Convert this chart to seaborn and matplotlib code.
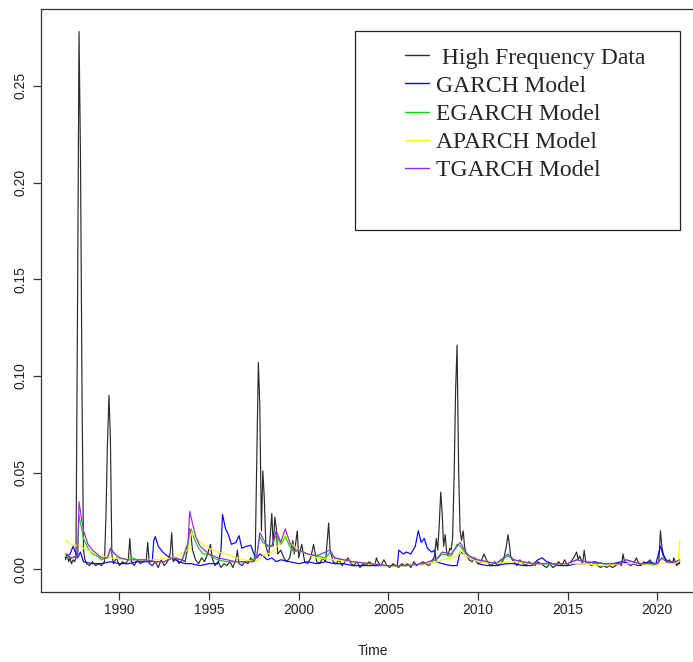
import numpy as np
import pandas as pd
import matplotlib
matplotlib.use("Agg")
import matplotlib.pyplot as plt
import seaborn as sns
from matplotlib.patches import Rectangle

# ---- data (time in decimal years) ----
hf_t = [1987.00, 1987.08, 1987.17, 1987.25, 1987.33, 1987.42, 1987.50, 1987.58, 1987.67, 1987.75,
        1987.83, 1987.92, 1988.00, 1988.08, 1988.17, 1988.33, 1988.50, 1988.67, 1988.83, 1989.00,
        1989.17, 1989.25, 1989.33, 1989.42, 1989.50, 1989.58, 1989.67, 1989.83, 1990.00, 1990.17,
        1990.33, 1990.50, 1990.58, 1990.67, 1990.83, 1991.00, 1991.17, 1991.33, 1991.50, 1991.58,
        1991.67, 1991.83, 1992.00, 1992.17, 1992.33, 1992.50, 1992.67, 1992.83, 1992.92, 1993.00,
        1993.17, 1993.33, 1993.50, 1993.67, 1993.83, 1993.92, 1994.00, 1994.08, 1994.25, 1994.42,
        1994.58, 1994.75, 1994.92, 1995.08, 1995.17, 1995.33, 1995.50, 1995.67, 1995.83, 1996.00,
        1996.17, 1996.33, 1996.50, 1996.58, 1996.67, 1996.83, 1997.00, 1997.17, 1997.33, 1997.50,
        1997.58, 1997.67, 1997.75, 1997.83, 1997.92, 1998.00, 1998.08, 1998.17, 1998.33, 1998.50,
        1998.58, 1998.67, 1998.75, 1998.83, 1999.00, 1999.17, 1999.33, 1999.50, 1999.67, 1999.75,
        1999.92, 2000.00, 2000.17, 2000.33, 2000.50, 2000.67, 2000.83, 2001.00, 2001.17, 2001.33,
        2001.50, 2001.67, 2001.75, 2001.92, 2002.08, 2002.25, 2002.42, 2002.58, 2002.75, 2002.92,
        2003.08, 2003.25, 2003.42, 2003.58, 2003.75, 2003.92, 2004.08, 2004.25, 2004.33, 2004.42,
        2004.58, 2004.75, 2004.92, 2005.08, 2005.25, 2005.42, 2005.58, 2005.75, 2005.92, 2006.08,
        2006.25, 2006.42, 2006.58, 2006.75, 2006.92, 2007.08, 2007.25, 2007.42, 2007.58, 2007.67,
        2007.75, 2007.83, 2007.92, 2008.00, 2008.08, 2008.17, 2008.25, 2008.33, 2008.42, 2008.50,
        2008.58, 2008.67, 2008.75, 2008.83, 2008.92, 2009.00, 2009.08, 2009.17, 2009.25, 2009.33,
        2009.50, 2009.67, 2009.83, 2010.00, 2010.17, 2010.33, 2010.42, 2010.58, 2010.75, 2010.92,
        2011.08, 2011.25, 2011.42, 2011.58, 2011.67, 2011.75, 2011.83, 2012.00, 2012.17, 2012.33,
        2012.50, 2012.67, 2012.83, 2013.00, 2013.17, 2013.33, 2013.50, 2013.67, 2013.83, 2014.00,
        2014.17, 2014.33, 2014.50, 2014.67, 2014.83, 2015.00, 2015.17, 2015.33, 2015.50, 2015.58,
        2015.67, 2015.83, 2015.92, 2016.00, 2016.17, 2016.33, 2016.50, 2016.67, 2016.83, 2017.00,
        2017.17, 2017.33, 2017.50, 2017.67, 2017.83, 2018.00, 2018.08, 2018.17, 2018.33, 2018.50,
        2018.67, 2018.83, 2018.92, 2019.08, 2019.25, 2019.42, 2019.58, 2019.75, 2019.92, 2020.08,
        2020.17, 2020.25, 2020.33, 2020.50, 2020.67, 2020.83, 2020.92, 2021.08, 2021.25]
hf_v = [0.005, 0.008, 0.004, 0.006, 0.003, 0.005, 0.004, 0.006, 0.140, 0.278,
        0.215, 0.088, 0.010, 0.005, 0.003, 0.002, 0.004, 0.002, 0.003, 0.002,
        0.004, 0.027, 0.063, 0.090, 0.068, 0.008, 0.003, 0.006, 0.002, 0.004,
        0.003, 0.005, 0.016, 0.004, 0.002, 0.005, 0.003, 0.004, 0.005, 0.014,
        0.003, 0.002, 0.004, 0.001, 0.005, 0.002, 0.004, 0.008, 0.019, 0.004,
        0.006, 0.003, 0.005, 0.004, 0.012, 0.021, 0.017, 0.010, 0.005, 0.003,
        0.006, 0.004, 0.008, 0.013, 0.006, 0.002, 0.004, 0.001, 0.003, 0.002,
        0.004, 0.001, 0.005, 0.010, 0.003, 0.002, 0.004, 0.003, 0.006, 0.004,
        0.010, 0.062, 0.107, 0.085, 0.020, 0.051, 0.037, 0.012, 0.007, 0.029,
        0.012, 0.027, 0.021, 0.008, 0.010, 0.006, 0.004, 0.006, 0.015, 0.008,
        0.020, 0.006, 0.013, 0.004, 0.003, 0.006, 0.013, 0.004, 0.003, 0.006,
        0.004, 0.024, 0.010, 0.004, 0.003, 0.005, 0.002, 0.004, 0.006, 0.003,
        0.002, 0.004, 0.001, 0.003, 0.002, 0.004, 0.003, 0.002, 0.006, 0.004,
        0.002, 0.005, 0.002, 0.001, 0.003, 0.002, 0.001, 0.003, 0.002, 0.003,
        0.001, 0.004, 0.002, 0.003, 0.004, 0.003, 0.002, 0.004, 0.007, 0.016,
        0.010, 0.022, 0.040, 0.029, 0.012, 0.018, 0.009, 0.007, 0.011, 0.010,
        0.016, 0.050, 0.093, 0.116, 0.050, 0.020, 0.015, 0.020, 0.012, 0.008,
        0.005, 0.004, 0.006, 0.003, 0.004, 0.008, 0.006, 0.003, 0.002, 0.004,
        0.002, 0.003, 0.005, 0.012, 0.018, 0.013, 0.006, 0.004, 0.002, 0.005,
        0.003, 0.002, 0.004, 0.003, 0.002, 0.004, 0.003, 0.002, 0.001, 0.003,
        0.001, 0.002, 0.004, 0.002, 0.005, 0.002, 0.004, 0.006, 0.009, 0.005,
        0.007, 0.003, 0.010, 0.004, 0.003, 0.002, 0.004, 0.002, 0.001, 0.002,
        0.001, 0.002, 0.001, 0.002, 0.003, 0.002, 0.008, 0.004, 0.003, 0.002,
        0.003, 0.006, 0.004, 0.002, 0.004, 0.003, 0.005, 0.002, 0.003, 0.004,
        0.020, 0.012, 0.008, 0.004, 0.005, 0.003, 0.006, 0.002, 0.004]

garch_t = [1987.00, 1987.25, 1987.42, 1987.58, 1987.67, 1987.83, 1988.00, 1988.50, 1989.00, 1989.50,
           1990.00, 1990.50, 1991.00, 1991.50, 1991.83, 1991.92, 1992.00, 1992.17, 1992.42, 1992.67,
           1993.00, 1993.33, 1993.67, 1994.00, 1994.50, 1995.00, 1995.50, 1995.67, 1995.75, 1995.92,
           1996.08, 1996.25, 1996.50, 1996.67, 1996.83, 1997.08, 1997.33, 1997.50, 1997.67, 1997.83,
           1998.00, 1998.25, 1998.50, 1998.75, 1999.00, 1999.50, 2000.00, 2000.50, 2001.00, 2001.50,
           2002.00, 2002.50, 2003.00, 2004.00, 2005.00, 2005.50, 2005.58, 2005.83, 2006.00, 2006.25,
           2006.50, 2006.67, 2006.83, 2007.00, 2007.17, 2007.42, 2007.58, 2007.67, 2008.00, 2008.50,
           2008.83, 2009.00, 2009.25, 2009.50, 2009.83, 2010.00, 2010.50, 2011.00, 2011.58, 2012.00,
           2012.50, 2013.00, 2013.33, 2013.58, 2013.83, 2014.17, 2014.50, 2015.00, 2015.50, 2016.00,
           2016.50, 2017.00, 2017.50, 2018.00, 2018.50, 2019.00, 2019.50, 2019.92, 2020.17, 2020.33,
           2020.58, 2021.00, 2021.25]
garch_v = [0.006, 0.008, 0.012, 0.008, 0.006, 0.009, 0.004, 0.003, 0.003, 0.004,
           0.003, 0.003, 0.004, 0.004, 0.004, 0.015, 0.017, 0.012, 0.009, 0.007,
           0.0055, 0.004, 0.003, 0.003, 0.002, 0.003, 0.003, 0.010, 0.0285, 0.021,
           0.018, 0.013, 0.014, 0.0175, 0.011, 0.012, 0.0125, 0.008, 0.006, 0.008,
           0.007, 0.005, 0.006, 0.004, 0.005, 0.004, 0.003, 0.004, 0.003, 0.004,
           0.003, 0.003, 0.002, 0.002, 0.002, 0.002, 0.010, 0.008, 0.009, 0.008,
           0.012, 0.020, 0.014, 0.016, 0.011, 0.009, 0.010, 0.004, 0.003, 0.002,
           0.002, 0.009, 0.008, 0.006, 0.005, 0.003, 0.002, 0.002, 0.003, 0.003,
           0.002, 0.002, 0.005, 0.006, 0.004, 0.003, 0.002, 0.002, 0.003, 0.003,
           0.004, 0.003, 0.003, 0.004, 0.003, 0.002, 0.004, 0.003, 0.012, 0.007,
           0.004, 0.003, 0.003]

egarch_t = [1987.00, 1987.33, 1987.67, 1987.75, 1987.83, 1988.00, 1988.25, 1988.50, 1988.75, 1989.00,
            1989.33, 1989.50, 1989.75, 1990.00, 1990.50, 1990.75, 1991.00, 1991.50, 1992.00, 1992.50,
            1993.00, 1993.50, 1993.83, 1993.92, 1994.00, 1994.17, 1994.42, 1994.67, 1995.00, 1995.25,
            1995.50, 1996.00, 1996.50, 1997.00, 1997.50, 1997.67, 1997.83, 1998.00, 1998.17, 1998.50,
            1998.75, 1999.00, 1999.25, 1999.50, 1999.75, 2000.00, 2000.50, 2001.00, 2001.50, 2001.75,
            2002.00, 2002.50, 2003.00, 2004.00, 2005.00, 2006.00, 2007.00, 2007.67, 2008.00, 2008.50,
            2008.83, 2009.00, 2009.25, 2009.50, 2010.00, 2010.50, 2011.00, 2011.67, 2012.00, 2012.50,
            2013.00, 2014.00, 2015.00, 2015.50, 2016.00, 2017.00, 2018.00, 2018.25, 2019.00, 2020.00,
            2020.25, 2020.50, 2021.00, 2021.25]
egarch_v = [0.007, 0.006, 0.007, 0.028, 0.024, 0.016, 0.011, 0.008, 0.007, 0.005,
            0.006, 0.010, 0.008, 0.006, 0.005, 0.006, 0.005, 0.005, 0.004, 0.004,
            0.006, 0.005, 0.012, 0.020, 0.021, 0.016, 0.011, 0.008, 0.008, 0.006,
            0.005, 0.004, 0.004, 0.004, 0.005, 0.008, 0.017, 0.014, 0.013, 0.012,
            0.018, 0.013, 0.017, 0.012, 0.009, 0.010, 0.008, 0.007, 0.006, 0.009,
            0.006, 0.005, 0.004, 0.003, 0.002, 0.002, 0.003, 0.005, 0.008, 0.007,
            0.013, 0.012, 0.009, 0.007, 0.005, 0.004, 0.003, 0.007, 0.005, 0.004,
            0.003, 0.003, 0.003, 0.005, 0.004, 0.003, 0.003, 0.005, 0.003, 0.003,
            0.006, 0.004, 0.004, 0.004]

aparch_t = [1987.00, 1987.50, 1987.75, 1988.00, 1988.50, 1989.00, 1989.50, 1990.00, 1991.00, 1992.00,
            1993.00, 1993.83, 1994.00, 1994.25, 1994.50, 1995.00, 1995.50, 1996.00, 1996.50, 1997.00,
            1997.50, 1997.75, 1998.00, 1998.50, 1999.00, 1999.25, 1999.50, 2000.00, 2000.50, 2001.00,
            2002.00, 2003.00, 2004.00, 2005.00, 2006.00, 2007.00, 2007.75, 2008.00, 2008.50, 2008.83,
            2009.08, 2009.25, 2009.50, 2010.00, 2011.00, 2011.75, 2012.00, 2013.00, 2014.00, 2015.00,
            2016.00, 2017.00, 2018.00, 2019.00, 2020.00, 2020.25, 2020.50, 2021.00, 2021.17, 2021.25]
aparch_v = [0.015, 0.012, 0.013, 0.011, 0.009, 0.007, 0.006, 0.0055, 0.005, 0.005,
            0.006, 0.010, 0.019, 0.017, 0.014, 0.011, 0.009, 0.008, 0.006, 0.005,
            0.004, 0.005, 0.007, 0.009, 0.014, 0.018, 0.014, 0.010, 0.008, 0.006,
            0.005, 0.004, 0.003, 0.002, 0.002, 0.003, 0.004, 0.005, 0.006, 0.007,
            0.0095, 0.008, 0.006, 0.004, 0.003, 0.004, 0.004, 0.003, 0.003, 0.003,
            0.003, 0.002, 0.003, 0.003, 0.002, 0.004, 0.003, 0.003, 0.004, 0.015]

tgarch_t = [1987.00, 1987.33, 1987.67, 1987.75, 1987.83, 1988.00, 1988.25, 1988.50, 1988.75, 1989.00,
            1989.33, 1989.50, 1989.75, 1990.00, 1990.50, 1991.00, 1991.50, 1992.00, 1992.50, 1993.00,
            1993.50, 1993.83, 1993.92, 1994.00, 1994.25, 1994.50, 1994.75, 1995.00, 1995.50, 1996.00,
            1996.50, 1997.00, 1997.50, 1997.67, 1997.83, 1998.00, 1998.25, 1998.50, 1998.75, 1999.00,
            1999.25, 1999.50, 1999.75, 2000.00, 2000.50, 2001.00, 2001.75, 2002.00, 2003.00, 2004.00,
            2005.00, 2006.00, 2007.00, 2007.75, 2008.00, 2008.50, 2008.83, 2009.00, 2009.25, 2009.50,
            2010.00, 2011.00, 2011.67, 2012.00, 2013.00, 2014.00, 2015.00, 2015.50, 2016.00, 2017.00,
            2018.00, 2018.25, 2019.00, 2020.00, 2020.25, 2020.50, 2021.00, 2021.25]
tgarch_v = [0.008, 0.006, 0.007, 0.035, 0.030, 0.020, 0.013, 0.010, 0.008, 0.006,
            0.006, 0.011, 0.008, 0.006, 0.005, 0.005, 0.005, 0.004, 0.004, 0.006,
            0.005, 0.014, 0.030, 0.027, 0.017, 0.012, 0.010, 0.008, 0.006, 0.005,
            0.004, 0.004, 0.004, 0.007, 0.019, 0.016, 0.012, 0.012, 0.020, 0.014,
            0.021, 0.014, 0.010, 0.010, 0.008, 0.007, 0.010, 0.006, 0.004, 0.003,
            0.002, 0.002, 0.003, 0.006, 0.009, 0.008, 0.012, 0.014, 0.010, 0.007,
            0.005, 0.003, 0.008, 0.005, 0.003, 0.003, 0.003, 0.005, 0.004, 0.003,
            0.003, 0.005, 0.003, 0.003, 0.006, 0.004, 0.004, 0.005]

series = [
    (" High Frequency Data", hf_t, hf_v, "#2b2b2b"),
    ("GARCH Model", garch_t, garch_v, "#0000ff"),
    ("EGARCH Model", egarch_t, egarch_v, "#00dd00"),
    ("APARCH Model", aparch_t, aparch_v, "#ffff00"),
    ("TGARCH Model", tgarch_t, tgarch_v, "#a020f0"),
]

sns.set_theme(style="ticks")
plt.rcParams['font.family'] = ['Liberation Sans', 'DejaVu Sans']

W, H = 693, 662
fig = plt.figure(figsize=(W / 100, H / 100), dpi=100)
# plot region in pixels: x 41..704 (right side is cut off), y 9..592
ax = fig.add_axes([41 / W, 1 - 592.3 / H, (704 - 41) / W, (592.3 - 9) / H])

for name, t, v, col in series:
    df = pd.DataFrame({"Time": t, "val": v})
    sns.lineplot(data=df, x="Time", y="val", ax=ax, color=col, lw=0.85,
                 label=name, errorbar=None, legend=False)

ax.set_xlim(1985.63, 2022.6)
ax.set_ylim(-0.0118, 0.2897)
ax.set_xticks([1990, 1995, 2000, 2005, 2010, 2015, 2020])
ax.set_yticks([0.0, 0.05, 0.10, 0.15, 0.20, 0.25])
ax.set_yticklabels(["0.00", "0.05", "0.10", "0.15", "0.20", "0.25"],
                   rotation=90, va="center")
ax.tick_params(axis="both", direction="out", length=6, width=0.9, color="#333333",
               labelsize=10, labelcolor="#222222", pad=1.5)
ax.tick_params(axis="y", pad=4)
for s in ax.spines.values():
    s.set_color("#333333")
    s.set_linewidth(0.9)
ax.set_xlabel("Time", fontsize=10, color="#222222", labelpad=20)
ax.set_ylabel("")

# legend box (R style, plain rectangle)
fig.patches.append(Rectangle((355 / W, 1 - 230 / H), (680 - 355) / W, (230 - 31) / H,
                             transform=fig.transFigure, fill=False,
                             edgecolor="#222222", linewidth=0.9))
handles, labels = ax.get_legend_handles_labels()
leg = fig.legend(handles, labels, loc="upper left",
                 bbox_to_anchor=(405 / W, 1 - 47 / H), frameon=False,
                 prop={"family": "Liberation Serif", "size": 17},
                 handlelength=1.0, handletextpad=0.3, labelspacing=0.28,
                 borderpad=0, borderaxespad=0)
for line in leg.get_lines():
    line.set_linewidth(1.0)

fig.savefig("out.png", dpi=100)
